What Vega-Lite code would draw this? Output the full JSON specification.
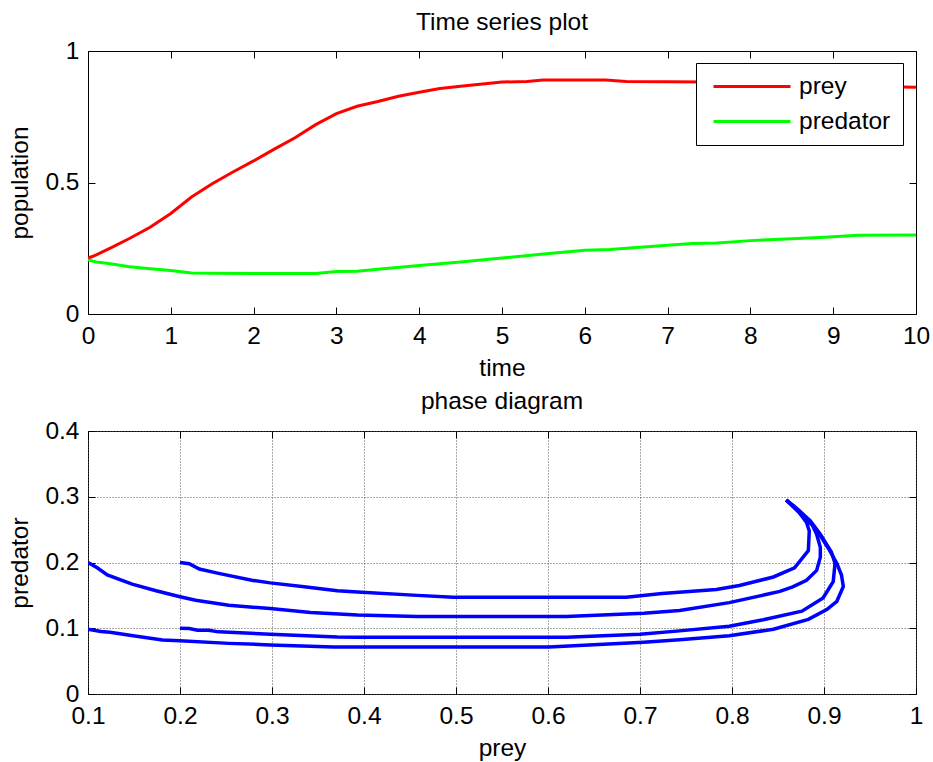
{
  "$schema": "https://vega.github.io/schema/vega-lite/v6.json",
  "padding": {"left": 7, "top": 9, "right": 5, "bottom": 0},
  "background": "white",
  "spacing": 117,
  "bounds": "flush",
  "datasets": {
    "ts": [
      {"t": 0, "v": 0.212, "s": "prey"},
      {"t": 0.1, "v": 0.225, "s": "prey"},
      {"t": 0.2, "v": 0.24, "s": "prey"},
      {"t": 0.3, "v": 0.255, "s": "prey"},
      {"t": 0.5, "v": 0.287, "s": "prey"},
      {"t": 0.75, "v": 0.33, "s": "prey"},
      {"t": 1.0, "v": 0.382, "s": "prey"},
      {"t": 1.25, "v": 0.445, "s": "prey"},
      {"t": 1.5, "v": 0.495, "s": "prey"},
      {"t": 1.75, "v": 0.54, "s": "prey"},
      {"t": 2.0, "v": 0.582, "s": "prey"},
      {"t": 2.25, "v": 0.627, "s": "prey"},
      {"t": 2.5, "v": 0.67, "s": "prey"},
      {"t": 2.75, "v": 0.72, "s": "prey"},
      {"t": 3.0, "v": 0.762, "s": "prey"},
      {"t": 3.25, "v": 0.79, "s": "prey"},
      {"t": 3.5, "v": 0.808, "s": "prey"},
      {"t": 3.75, "v": 0.828, "s": "prey"},
      {"t": 4.0, "v": 0.843, "s": "prey"},
      {"t": 4.25, "v": 0.857, "s": "prey"},
      {"t": 4.5, "v": 0.866, "s": "prey"},
      {"t": 5.0, "v": 0.882, "s": "prey"},
      {"t": 5.3, "v": 0.884, "s": "prey"},
      {"t": 5.5, "v": 0.89, "s": "prey"},
      {"t": 6.25, "v": 0.89, "s": "prey"},
      {"t": 6.5, "v": 0.884, "s": "prey"},
      {"t": 7.5, "v": 0.882, "s": "prey"},
      {"t": 8.0, "v": 0.878, "s": "prey"},
      {"t": 9.0, "v": 0.87, "s": "prey"},
      {"t": 9.5, "v": 0.865, "s": "prey"},
      {"t": 10.0, "v": 0.862, "s": "prey"},
      {"t": 0, "v": 0.205, "s": "predator"},
      {"t": 0.1, "v": 0.198, "s": "predator"},
      {"t": 0.25, "v": 0.192, "s": "predator"},
      {"t": 0.5, "v": 0.18, "s": "predator"},
      {"t": 0.75, "v": 0.172, "s": "predator"},
      {"t": 1.0, "v": 0.165, "s": "predator"},
      {"t": 1.25, "v": 0.156, "s": "predator"},
      {"t": 1.5, "v": 0.155, "s": "predator"},
      {"t": 2.0, "v": 0.154, "s": "predator"},
      {"t": 2.5, "v": 0.154, "s": "predator"},
      {"t": 2.75, "v": 0.154, "s": "predator"},
      {"t": 3.0, "v": 0.162, "s": "predator"},
      {"t": 3.25, "v": 0.163, "s": "predator"},
      {"t": 3.5, "v": 0.17, "s": "predator"},
      {"t": 4.0, "v": 0.184, "s": "predator"},
      {"t": 4.5, "v": 0.198, "s": "predator"},
      {"t": 5.0, "v": 0.213, "s": "predator"},
      {"t": 5.5, "v": 0.228, "s": "predator"},
      {"t": 6.0, "v": 0.242, "s": "predator"},
      {"t": 6.3, "v": 0.245, "s": "predator"},
      {"t": 7.0, "v": 0.261, "s": "predator"},
      {"t": 7.3, "v": 0.268, "s": "predator"},
      {"t": 7.6, "v": 0.27, "s": "predator"},
      {"t": 8.0, "v": 0.279, "s": "predator"},
      {"t": 8.5, "v": 0.286, "s": "predator"},
      {"t": 8.9, "v": 0.292, "s": "predator"},
      {"t": 9.3, "v": 0.299, "s": "predator"},
      {"t": 10.0, "v": 0.3, "s": "predator"}
    ],
    "phase": [
      {"traj": "A", "i": 1, "prey": 0.1, "pred": 0.2},
      {"traj": "A", "i": 2, "prey": 0.11, "pred": 0.192},
      {"traj": "A", "i": 3, "prey": 0.121, "pred": 0.181},
      {"traj": "A", "i": 4, "prey": 0.148, "pred": 0.167},
      {"traj": "A", "i": 5, "prey": 0.174, "pred": 0.157},
      {"traj": "A", "i": 6, "prey": 0.2, "pred": 0.148},
      {"traj": "A", "i": 7, "prey": 0.217, "pred": 0.1425},
      {"traj": "A", "i": 8, "prey": 0.253, "pred": 0.135},
      {"traj": "A", "i": 9, "prey": 0.298, "pred": 0.13},
      {"traj": "A", "i": 10, "prey": 0.342, "pred": 0.124},
      {"traj": "A", "i": 11, "prey": 0.393, "pred": 0.12},
      {"traj": "A", "i": 12, "prey": 0.458, "pred": 0.118},
      {"traj": "A", "i": 13, "prey": 0.62, "pred": 0.118},
      {"traj": "A", "i": 14, "prey": 0.704, "pred": 0.123},
      {"traj": "A", "i": 15, "prey": 0.743, "pred": 0.127},
      {"traj": "A", "i": 16, "prey": 0.797, "pred": 0.139},
      {"traj": "A", "i": 17, "prey": 0.852, "pred": 0.156},
      {"traj": "A", "i": 18, "prey": 0.866, "pred": 0.163},
      {"traj": "A", "i": 19, "prey": 0.881, "pred": 0.173},
      {"traj": "A", "i": 20, "prey": 0.892, "pred": 0.188},
      {"traj": "A", "i": 21, "prey": 0.896, "pred": 0.208},
      {"traj": "A", "i": 22, "prey": 0.896, "pred": 0.223},
      {"traj": "A", "i": 23, "prey": 0.892, "pred": 0.243},
      {"traj": "A", "i": 24, "prey": 0.887, "pred": 0.258},
      {"traj": "A", "i": 25, "prey": 0.877, "pred": 0.273},
      {"traj": "A", "i": 26, "prey": 0.868, "pred": 0.285},
      {"traj": "A", "i": 27, "prey": 0.859, "pred": 0.295},
      {"traj": "B", "i": 1, "prey": 0.2, "pred": 0.2},
      {"traj": "B", "i": 2, "prey": 0.21, "pred": 0.198},
      {"traj": "B", "i": 3, "prey": 0.221, "pred": 0.19},
      {"traj": "B", "i": 4, "prey": 0.242, "pred": 0.1835},
      {"traj": "B", "i": 5, "prey": 0.278, "pred": 0.173},
      {"traj": "B", "i": 6, "prey": 0.298, "pred": 0.169},
      {"traj": "B", "i": 7, "prey": 0.335, "pred": 0.163},
      {"traj": "B", "i": 8, "prey": 0.371, "pred": 0.157},
      {"traj": "B", "i": 9, "prey": 0.393, "pred": 0.155},
      {"traj": "B", "i": 10, "prey": 0.458, "pred": 0.15},
      {"traj": "B", "i": 11, "prey": 0.497, "pred": 0.147},
      {"traj": "B", "i": 12, "prey": 0.685, "pred": 0.147},
      {"traj": "B", "i": 13, "prey": 0.724, "pred": 0.153},
      {"traj": "B", "i": 14, "prey": 0.783, "pred": 0.159},
      {"traj": "B", "i": 15, "prey": 0.808, "pred": 0.165},
      {"traj": "B", "i": 16, "prey": 0.845, "pred": 0.178},
      {"traj": "B", "i": 17, "prey": 0.868, "pred": 0.192},
      {"traj": "B", "i": 18, "prey": 0.883, "pred": 0.218},
      {"traj": "B", "i": 19, "prey": 0.884, "pred": 0.248},
      {"traj": "B", "i": 20, "prey": 0.881, "pred": 0.261},
      {"traj": "B", "i": 21, "prey": 0.872, "pred": 0.278},
      {"traj": "B", "i": 22, "prey": 0.859, "pred": 0.295},
      {"traj": "C", "i": 1, "prey": 0.1, "pred": 0.0985},
      {"traj": "C", "i": 2, "prey": 0.114, "pred": 0.095},
      {"traj": "C", "i": 3, "prey": 0.124, "pred": 0.094},
      {"traj": "C", "i": 4, "prey": 0.149, "pred": 0.0885},
      {"traj": "C", "i": 5, "prey": 0.181, "pred": 0.082},
      {"traj": "C", "i": 6, "prey": 0.2, "pred": 0.081},
      {"traj": "C", "i": 7, "prey": 0.253, "pred": 0.077},
      {"traj": "C", "i": 8, "prey": 0.298, "pred": 0.0747},
      {"traj": "C", "i": 9, "prey": 0.367, "pred": 0.0715},
      {"traj": "C", "i": 10, "prey": 0.601, "pred": 0.0715},
      {"traj": "C", "i": 11, "prey": 0.704, "pred": 0.0787},
      {"traj": "C", "i": 12, "prey": 0.743, "pred": 0.0825},
      {"traj": "C", "i": 13, "prey": 0.797, "pred": 0.0885},
      {"traj": "C", "i": 14, "prey": 0.845, "pred": 0.0985},
      {"traj": "C", "i": 15, "prey": 0.883, "pred": 0.1135},
      {"traj": "C", "i": 16, "prey": 0.903, "pred": 0.1285},
      {"traj": "C", "i": 17, "prey": 0.914, "pred": 0.141},
      {"traj": "C", "i": 18, "prey": 0.921, "pred": 0.1635},
      {"traj": "C", "i": 19, "prey": 0.919, "pred": 0.181},
      {"traj": "C", "i": 20, "prey": 0.914, "pred": 0.1985},
      {"traj": "C", "i": 21, "prey": 0.905, "pred": 0.221},
      {"traj": "C", "i": 22, "prey": 0.896, "pred": 0.241},
      {"traj": "C", "i": 23, "prey": 0.888, "pred": 0.256},
      {"traj": "C", "i": 24, "prey": 0.876, "pred": 0.272},
      {"traj": "C", "i": 25, "prey": 0.859, "pred": 0.295},
      {"traj": "D", "i": 1, "prey": 0.2, "pred": 0.1},
      {"traj": "D", "i": 2, "prey": 0.21, "pred": 0.0995},
      {"traj": "D", "i": 3, "prey": 0.219, "pred": 0.097},
      {"traj": "D", "i": 4, "prey": 0.231, "pred": 0.097},
      {"traj": "D", "i": 5, "prey": 0.242, "pred": 0.0945},
      {"traj": "D", "i": 6, "prey": 0.298, "pred": 0.091},
      {"traj": "D", "i": 7, "prey": 0.371, "pred": 0.0868},
      {"traj": "D", "i": 8, "prey": 0.393, "pred": 0.0863},
      {"traj": "D", "i": 9, "prey": 0.62, "pred": 0.0863},
      {"traj": "D", "i": 10, "prey": 0.7, "pred": 0.091},
      {"traj": "D", "i": 11, "prey": 0.743, "pred": 0.096},
      {"traj": "D", "i": 12, "prey": 0.797, "pred": 0.103},
      {"traj": "D", "i": 13, "prey": 0.834, "pred": 0.113},
      {"traj": "D", "i": 14, "prey": 0.876, "pred": 0.126},
      {"traj": "D", "i": 15, "prey": 0.899, "pred": 0.146},
      {"traj": "D", "i": 16, "prey": 0.91, "pred": 0.171},
      {"traj": "D", "i": 17, "prey": 0.912, "pred": 0.1985},
      {"traj": "D", "i": 18, "prey": 0.908, "pred": 0.216},
      {"traj": "D", "i": 19, "prey": 0.896, "pred": 0.243},
      {"traj": "D", "i": 20, "prey": 0.885, "pred": 0.2635},
      {"traj": "D", "i": 21, "prey": 0.872, "pred": 0.28},
      {"traj": "D", "i": 22, "prey": 0.859, "pred": 0.295}
    ]
  },
  "vconcat": [
    {
      "width": 828,
      "height": 263,
      "title": {"text": "Time series plot", "frame": "group", "baseline": "alphabetic", "offset": -16},
      "data": {"name": "ts"},
      "resolve": {"axis": {"x": "independent", "y": "independent"}},
      "layer": [
        {
          "mark": {"type": "line", "strokeWidth": 3, "clip": true},
          "encoding": {
            "x": {"field": "t", "type": "quantitative", "scale": {"domain": [0, 10], "nice": false},
                  "axis": {"orient": "bottom", "title": "time", "values": [0,1,2,3,4,5,6,7,8,9,10], "format": "~r"}},
            "y": {"field": "v", "type": "quantitative", "scale": {"domain": [0, 1], "nice": false},
                  "axis": {"orient": "left", "title": "population", "values": [0, 0.5, 1], "format": "~r"}},
            "color": {"field": "s", "type": "nominal",
                      "scale": {"domain": ["prey", "predator"], "range": ["#ff0000", "#00ff00"]},
                      "legend": {"orient": "none", "legendX": 608, "legendY": 12, "title": null,
                                 "symbolType": "stroke", "symbolSize": 5929, "symbolStrokeWidth": 3,
                                 "clipHeight": 23,
                                 "symbolOffset": 4, "labelOffset": 7, "labelFontSize": 24.5, "labelColor": "black",
                                 "strokeColor": "black", "fillColor": "white", "padding": 12, "rowPadding": 10}}
          }
        },
        {
          "mark": {"type": "line", "opacity": 0},
          "encoding": {
            "x": {"field": "t", "type": "quantitative",
                  "axis": {"orient": "top", "title": null, "labels": false, "values": [0,1,2,3,4,5,6,7,8,9,10]}},
            "y": {"field": "v", "type": "quantitative",
                  "axis": {"orient": "right", "title": null, "labels": false, "values": [0, 0.5, 1]}},
            "detail": {"field": "s"}
          }
        }
      ]
    },
    {
      "width": 828,
      "height": 263,
      "title": {"text": "phase diagram", "frame": "group", "baseline": "alphabetic", "offset": -15},
      "data": {"name": "phase"},
      "resolve": {"axis": {"x": "independent", "y": "independent"}},
      "layer": [
        {
          "mark": {"type": "line", "strokeWidth": 3.5, "color": "#0000ff", "clip": true},
          "encoding": {
            "x": {"field": "prey", "type": "quantitative", "scale": {"domain": [0.1, 1], "nice": false, "zero": false},
                  "axis": {"orient": "bottom", "title": "prey", "values": [0.1,0.2,0.3,0.4,0.5,0.6,0.7,0.8,0.9,1], "format": "~r",
                           "grid": true, "gridColor": "#555555", "gridDash": [1, 2], "gridWidth": 1}},
            "y": {"field": "pred", "type": "quantitative", "scale": {"domain": [0, 0.4], "nice": false},
                  "axis": {"orient": "left", "title": "predator", "values": [0, 0.1, 0.2, 0.3, 0.4], "format": "~r",
                           "grid": true, "gridColor": "#555555", "gridDash": [1, 2], "gridWidth": 1}},
            "detail": {"field": "traj"},
            "order": {"field": "i", "type": "quantitative"}
          }
        },
        {
          "mark": {"type": "line", "opacity": 0},
          "encoding": {
            "x": {"field": "prey", "type": "quantitative",
                  "axis": {"orient": "top", "title": null, "labels": false, "values": [0.1,0.2,0.3,0.4,0.5,0.6,0.7,0.8,0.9,1]}},
            "y": {"field": "pred", "type": "quantitative",
                  "axis": {"orient": "right", "title": null, "labels": false, "values": [0, 0.1, 0.2, 0.3, 0.4]}},
            "detail": {"field": "traj"},
            "order": {"field": "i", "type": "quantitative"}
          }
        }
      ]
    }
  ],
  "config": {
    "font": "Liberation Sans",
    "view": {"stroke": "black", "strokeWidth": 1},
    "axis": {"labelFontSize": 24.5, "titleFontSize": 24.5, "labelColor": "black", "titleColor": "black",
             "titleFontWeight": "normal", "domain": false, "tickColor": "black", "tickSize": -7,
             "minExtent": 0, "grid": false, "labelFlush": false, "labelFont": "Liberation Sans", "titleFont": "Liberation Sans"},
    "axisX": {"labelPadding": 17, "titlePadding": 9},
    "axisY": {"labelPadding": 16, "titlePadding": 12},
    "title": {"fontSize": 24.5, "fontWeight": "normal", "color": "black", "font": "Liberation Sans"},
    "legend": {"labelFont": "Liberation Sans"}
  }
}
